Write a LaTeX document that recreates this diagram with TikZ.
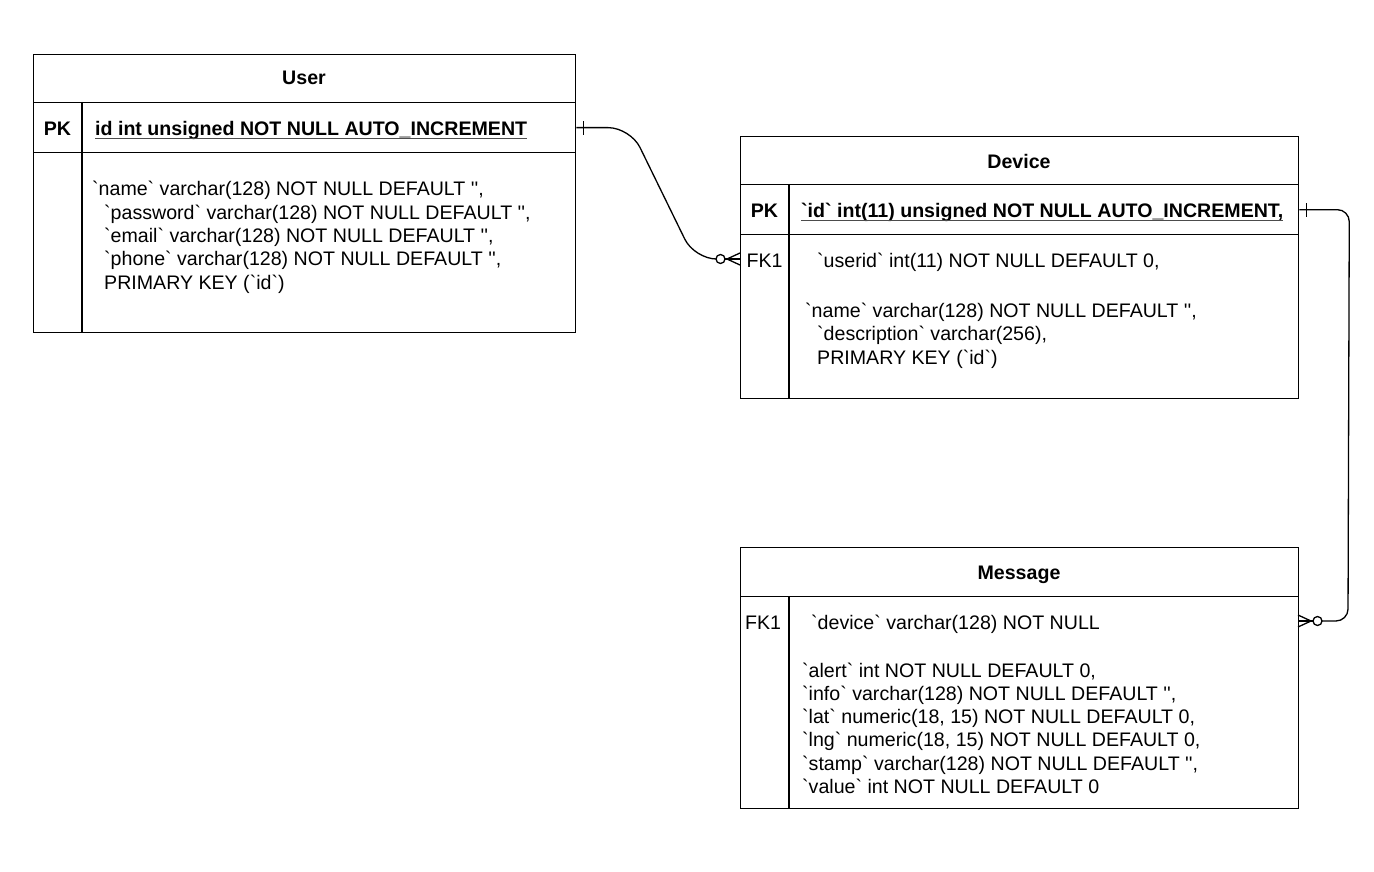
\documentclass[tikz,border=0pt]{standalone}
\usepackage{fontspec}
\setmainfont{Liberation Sans}
\newcommand{\bq}{\textasciigrave}
\newcommand{\sq}{\textquotesingle}
\newcommand{\sps}{\hspace*{12pt}}
\tikzset{
  cell/.style={draw, line width=1.3pt, inner sep=0pt, anchor=north west},
  txt/.style={anchor=base west, inner sep=0pt, font=\fontsize{19.6}{23.3}\selectfont},
  ctxt/.style={anchor=base, inner sep=0pt, font=\fontsize{19.6}{23.3}\selectfont},
  btxt/.style={ctxt, font=\fontsize{19.6}{23.3}\selectfont\bfseries},
  conn/.style={line width=1.3pt},
  endmark/.style={line width=1.3pt},
  uline/.style={line width=1pt, black!70}
}
\begin{document}
\begin{tikzpicture}[x=1pt,y=-1pt]
\useasboundingbox (0,0) rectangle (1374,872);
% ---------------- User ----------------
\node[cell, minimum width=542pt, minimum height=48pt] (userhead) at (33,54) {};
\node[cell, minimum width=542pt, minimum height=50pt] (userpk) at (33,102) {};
\node[cell, minimum width=542pt, minimum height=180pt] (userbody) at (33,152) {};
\draw[line width=1.3pt] ([xshift=49pt]userpk.north west) -- ([xshift=49pt]userbody.south west);
\node[btxt] (usertitle) at (304,85) {User};
\node[btxt] (userpklbl) at (57.5,135.5) {PK};
\node[txt, font=\fontsize{19.6}{23.3}\selectfont\bfseries] (userid) at (95,135.5) {id int unsigned NOT NULL AUTO\_INCREMENT};
\draw[uline] ([yshift=-3pt]userid.base west) -- ([yshift=-3pt]userid.base east);
\node[txt] (u1) at (92,196) {\bq name\bq{} varchar(128) NOT NULL DEFAULT \sq\sq,};
\node[txt] (u2) at (92,219.3) {\sps\bq password\bq{} varchar(128) NOT NULL DEFAULT \sq\sq,};
\node[txt] (u3) at (92,242.6) {\sps\bq email\bq{} varchar(128) NOT NULL DEFAULT \sq\sq,};
\node[txt] (u4) at (92,265.9) {\sps\bq phone\bq{} varchar(128) NOT NULL DEFAULT \sq\sq,};
\node[txt] (u5) at (92,289.2) {\sps PRIMARY KEY (\bq id\bq)};
% ---------------- Device ----------------
\node[cell, minimum width=558pt, minimum height=48pt] (devhead) at (740,136) {};
\node[cell, minimum width=558pt, minimum height=50pt] (devpk) at (740,184) {};
\node[cell, minimum width=558pt, minimum height=164pt] (devbody) at (740,234) {};
\draw[line width=1.3pt] ([xshift=49pt]devpk.north west) -- ([xshift=49pt]devbody.south west);
\node[btxt] (devtitle) at (1019,168) {Device};
\node[btxt] (devpklbl) at (764.5,217) {PK};
\node[txt, font=\fontsize{19.6}{23.3}\selectfont\bfseries] (devid) at (801,217) {\bq id\bq{} int(11) unsigned NOT NULL AUTO\_INCREMENT,};
\draw[uline] ([yshift=-3pt]devid.base west) -- ([yshift=-3pt]devid.base east);
\node[ctxt] (devfklbl) at (764.5,267) {FK1};
\node[txt] (d1) at (805,267) {\sps\bq userid\bq{} int(11) NOT NULL DEFAULT 0,};
\node[txt] (d2) at (805,317.5) {\bq name\bq{} varchar(128) NOT NULL DEFAULT \sq\sq,};
\node[txt] (d3) at (805,340.8) {\sps\bq description\bq{} varchar(256),};
\node[txt] (d4) at (805,364.1) {\sps PRIMARY KEY (\bq id\bq)};
\coordinate (devfk) at (740,259);
% ---------------- Message ----------------
\node[cell, minimum width=558pt, minimum height=49pt] (msghead) at (740,547) {};
\node[cell, minimum width=558pt, minimum height=212pt] (msgbody) at (740,596) {};
\draw[line width=1.3pt] ([xshift=49pt]msgbody.north west) -- ([xshift=49pt]msgbody.south west);
\node[btxt] (msgtitle) at (1019,579) {Message};
\node[ctxt] (msgfklbl) at (763,629) {FK1};
\node[txt] (m0) at (802,629) {\hspace*{9pt}\bq device\bq{} varchar(128) NOT NULL};
\node[txt] (m1) at (802,677) {\bq alert\bq{} int NOT NULL DEFAULT 0,};
\node[txt] (m2) at (802,700.3) {\bq info\bq{} varchar(128) NOT NULL DEFAULT \sq\sq,};
\node[txt] (m3) at (802,723.6) {\bq lat\bq{} numeric(18, 15) NOT NULL DEFAULT 0,};
\node[txt] (m4) at (802,746.9) {\bq lng\bq{} numeric(18, 15) NOT NULL DEFAULT 0,};
\node[txt] (m5) at (802,770.2) {\bq stamp\bq{} varchar(128) NOT NULL DEFAULT \sq\sq,};
\node[txt] (m6) at (802,793.5) {\bq value\bq{} int NOT NULL DEFAULT 0};
\coordinate (msgfk) at (1298,621);
% ---------------- Connector User -> Device ----------------
\draw[conn, rounded corners=22pt] (userpk.east) -- ++(54,0) -- ([xshift=-45.5pt]devfk) -- ([xshift=-24pt]devfk);
\draw[endmark] ([xshift=7pt,yshift=-7pt]userpk.east) -- ([xshift=7pt,yshift=7pt]userpk.east);
\draw[endmark] ([xshift=-19.5pt]devfk) circle (4.5pt);
\draw[endmark] ([xshift=-15pt]devfk) -- (devfk);
\draw[endmark] ([xshift=-13pt]devfk) -- ([yshift=-6pt]devfk);
\draw[endmark] ([xshift=-13pt]devfk) -- ([yshift=6pt]devfk);
% ---------------- Connector Device -> Message ----------------
\draw[conn, rounded corners=12pt] (devpk.east) -- ++(50,0) -- ([xshift=50pt]msgfk) -- ([xshift=24pt]msgfk);
\draw[endmark] ([xshift=7pt,yshift=-7pt]devpk.east) -- ([xshift=7pt,yshift=7pt]devpk.east);
\draw[endmark] ([xshift=19.5pt]msgfk) circle (4.5pt);
\draw[endmark] ([xshift=15pt]msgfk) -- (msgfk);
\draw[endmark] ([xshift=13pt]msgfk) -- ([yshift=-6pt]msgfk);
\draw[endmark] ([xshift=13pt]msgfk) -- ([yshift=6pt]msgfk);
\end{tikzpicture}
\end{document}
